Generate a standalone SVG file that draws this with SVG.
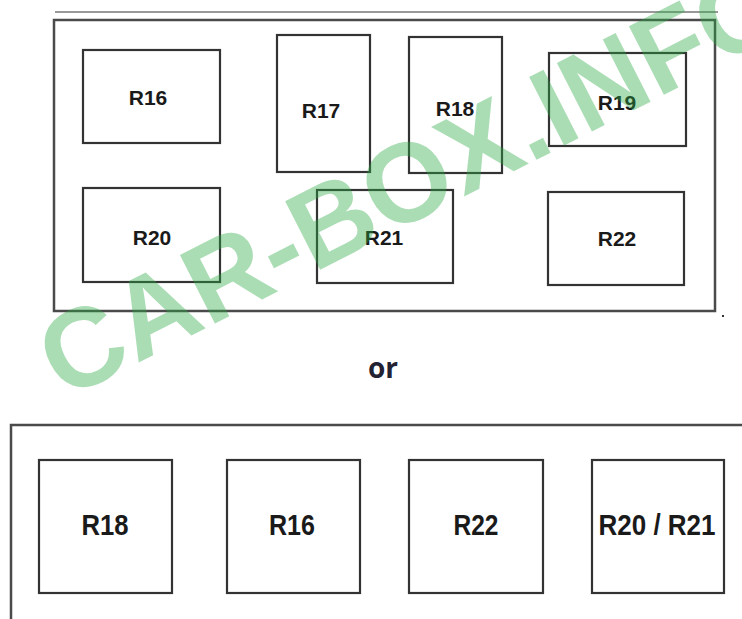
<svg xmlns="http://www.w3.org/2000/svg" width="742" height="619" viewBox="0 0 742 619">
<style>
.frame{fill:none;stroke:#4a4a4a;stroke-width:2.5}
.box{fill:#ffffff;stroke:#333333;stroke-width:2.2}
.lbl{font-family:"Liberation Sans",Arial,sans-serif;font-weight:bold;fill:#1a1a1a;text-anchor:middle}
.top{font-size:21px}
.bot{font-size:29px}
.wm{font-family:"Liberation Sans",Arial,sans-serif;font-weight:bold;font-size:112px;fill:#2eaa46;fill-opacity:0.4;text-anchor:middle}
</style>
<rect width="742" height="619" fill="#ffffff"/>
<g id="layout-1">
  <line x1="55" y1="12" x2="718" y2="12" stroke="#777777" stroke-width="1.6"/>
  <rect class="frame" x="54" y="20" width="661" height="291"/>
  <rect x="722" y="315" width="2" height="2" fill="#333333"/>
  <g id="r16-a"><rect class="box" x="83" y="50" width="137" height="93"/><text class="lbl top" x="148" y="104.5">R16</text></g>
  <g id="r17-a"><rect class="box" x="277" y="35" width="93" height="137"/><text class="lbl top" x="321" y="117.5">R17</text></g>
  <g id="r18-a"><rect class="box" x="409" y="37" width="93" height="136"/><text class="lbl top" x="455" y="115.5">R18</text></g>
  <g id="r19-a"><rect class="box" x="549" y="53" width="137" height="93"/><text class="lbl top" x="617" y="109.5">R19</text></g>
  <g id="r20-a"><rect class="box" x="83" y="188" width="137" height="94"/><text class="lbl top" x="152" y="244.5">R20</text></g>
  <g id="r21-a"><rect class="box" x="317" y="190" width="136" height="93"/><text class="lbl top" x="384" y="244.5">R21</text></g>
  <g id="r22-a"><rect class="box" x="548" y="192" width="136" height="93"/><text class="lbl top" x="617" y="245.5">R22</text></g>
</g>
<text x="383" y="378" font-family="'Open Sans',sans-serif" font-weight="bold" font-size="28" fill="#222233" text-anchor="middle">or</text>
<g id="layout-2">
  <path class="frame" d="M11,619 V425 H742" stroke="#333333"/>
  <g id="r18-b"><rect class="box" x="39" y="460" width="133" height="133"/><text class="lbl bot" x="105" y="535" textLength="47" lengthAdjust="spacingAndGlyphs">R18</text></g>
  <g id="r16-b"><rect class="box" x="227" y="460" width="133" height="133"/><text class="lbl bot" x="292" y="535" textLength="46" lengthAdjust="spacingAndGlyphs">R16</text></g>
  <g id="r22-b"><rect class="box" x="409" y="460" width="134" height="133"/><text class="lbl bot" x="476" y="535" textLength="45" lengthAdjust="spacingAndGlyphs">R22</text></g>
  <g id="r2021-b"><rect class="box" x="592" y="460" width="132" height="133"/><text class="lbl bot" x="657" y="535" textLength="117" lengthAdjust="spacingAndGlyphs">R20 / R21</text></g>
</g>
<g id="connectors"></g>
<text class="wm" transform="translate(430,214) rotate(-27)" x="0" y="0">CAR-BOX.INFO</text>
</svg>
